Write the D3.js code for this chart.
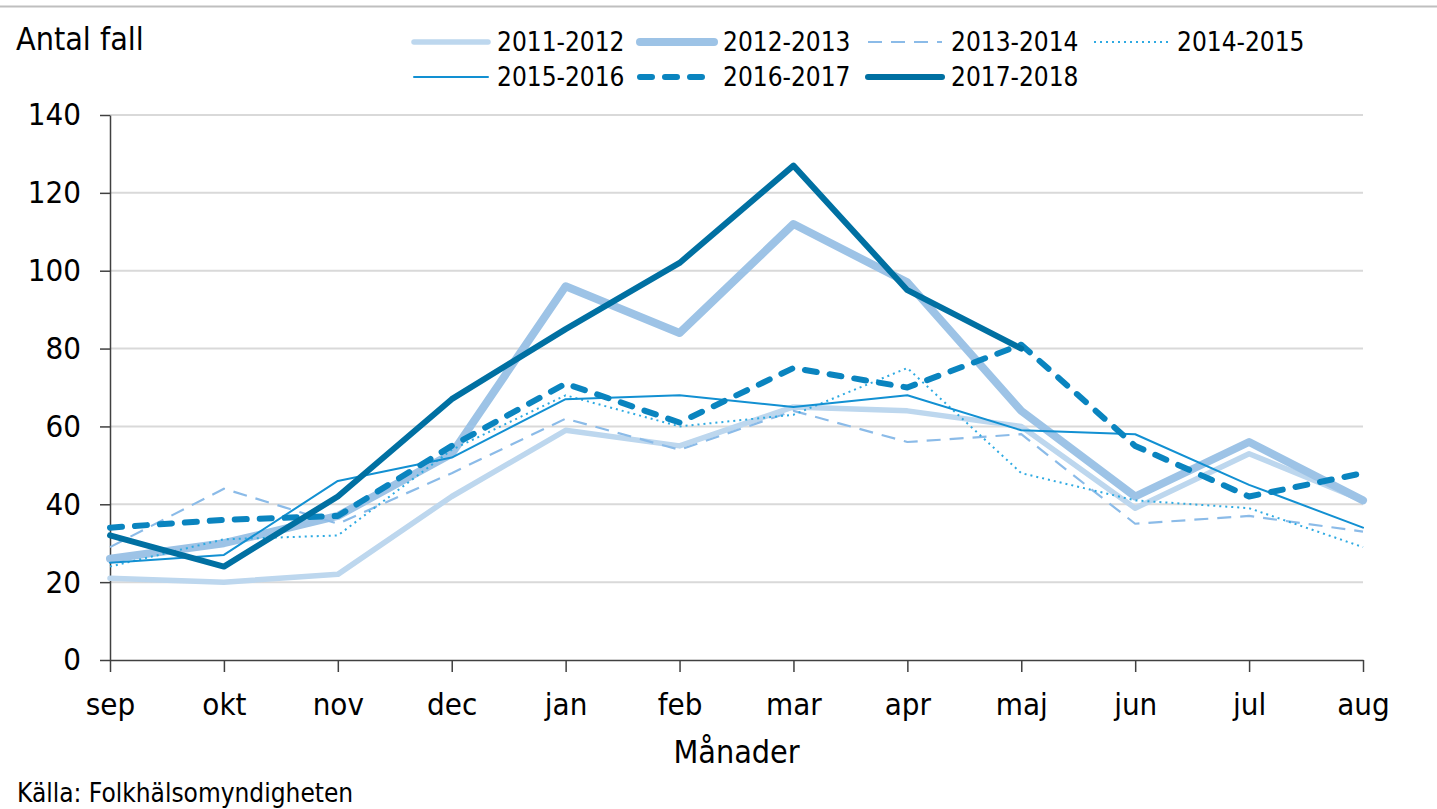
<!doctype html>
<html lang="sv">
<head>
  <meta charset="utf-8">
  <script src="https://cdn.jsdelivr.net/npm/d3@7/dist/d3.min.js"></script>
</head>

<style>
    body {
        margin: 0;
        background-color: white;
        font-family: "DejaVu Sans Condensed", "DejaVu Sans", sans-serif;
    }

    svg {
        display: block;
    }

    .tick text {
        font-family: "DejaVu Sans Condensed", "DejaVu Sans", sans-serif;
        fill: #000;
    }
</style>

<body>
</body>

<script>

    let months = ['sep', 'okt', 'nov', 'dec', 'jan', 'feb', 'mar', 'apr', 'maj', 'jun', 'jul', 'aug']
    let yTicks = [0, 20, 40, 60, 80, 100, 120, 140]

    let seasons = ['2011-2012', '2012-2013', '2013-2014', '2014-2015', '2015-2016', '2016-2017', '2017-2018']

    let s2011 = [21, 20, 22, 42, 59, 55, 65, 64, 60, 39, 53, 41]
    let s2012 = [26, 30, 37, 53, 96, 84, 112, 97, 64, 42, 56, 41]
    let s2013 = [29, 44, 35, 48, 62, 54, 64, 56, 58, 35, 37, 33]
    let s2014 = [24, 31, 32, 54, 68, 60, 63, 75, 48, 41, 39, 29]
    let s2015 = [25, 27, 46, 52, 67, 68, 65, 68, 59, 58, 45, 34]
    let s2016 = [34, 36, 37, 55, 71, 61, 75, 70, 81, 55, 42, 48]
    let s2017 = [32, 24, 42, 67, 85, 102, 127, 95, 80]

    let seriesValues = [s2011, s2012, s2013, s2014, s2015, s2016, s2017]

    // line styles, same order as seasons
    let styles = [
        {color: '#bdd7ee', width: 5.5, dash: null, cap: 'round'},
        {color: '#9dc3e6', width: 8, dash: null, cap: 'round'},
        {color: '#8bbbe8', width: 2.2, dash: '14,9', cap: 'butt'},
        {color: '#2eaae2', width: 2, dash: '2,4', cap: 'butt'},
        {color: '#1290d2', width: 2, dash: null, cap: 'round'},
        {color: '#0a84bf', width: 6, dash: '12,13', cap: 'round'},
        {color: '#0070a2', width: 6, dash: null, cap: 'round'}
    ]

    let width = 1437, height = 809
    let margin = {left: 110, right: 74, top: 115, bottom: 149}

    let svg = d3.select('body')
        .append('svg')
        .attr('width', width)
        .attr('height', height)

    // thin frame line at the top
    svg.append('line')
        .attr('x1', 0).attr('x2', width)
        .attr('y1', 6.5).attr('y2', 6.5)
        .attr('stroke', '#bfbfbf')
        .attr('stroke-width', 2)

    let x = d3.scalePoint()
        .domain(months)
        .range([margin.left, width - margin.right])

    let y = d3.scaleLinear()
        .domain([0, 140])
        .range([height - margin.bottom, margin.top])

    // grid
    svg.append('g')
        .selectAll('line')
        .data(yTicks.filter(t => t > 0))
        .join('line')
        .attr('x1', margin.left)
        .attr('x2', width - margin.right)
        .attr('y1', d => y(d))
        .attr('y2', d => y(d))
        .attr('stroke', '#d9d9d9')
        .attr('stroke-width', 2)

    // axes
    let yAxis = svg.append('g')
        .attr('transform', 'translate(' + margin.left + ',0)')
        .call(d3.axisLeft(y).tickValues(yTicks).tickSize(10).tickPadding(19).tickSizeOuter(0))

    yAxis.selectAll('text').style('font-size', '31px')
    yAxis.selectAll('line, path').attr('stroke', '#404040').attr('stroke-width', 1.5)

    let xAxis = svg.append('g')
        .attr('transform', 'translate(0,' + y(0) + ')')
        .call(d3.axisBottom(x).tickSize(12).tickPadding(21).tickSizeOuter(0))

    xAxis.selectAll('text').style('font-size', '31px')
    xAxis.selectAll('line, path').attr('stroke', '#404040').attr('stroke-width', 1.5)

    // lines
    let line = d3.line()
        .x((d, i) => x(months[i]))
        .y(d => y(d))

    seriesValues.forEach((vals, i) => {
        let st = styles[i]
        svg.append('path')
            .datum(vals)
            .attr('d', line)
            .attr('fill', 'none')
            .attr('stroke', st.color)
            .attr('stroke-width', st.width)
            .attr('stroke-dasharray', st.dash)
            .attr('stroke-linecap', st.cap)
            .attr('stroke-linejoin', 'round')
    })

    // legend
    let legendPos = [
        [410, 42], [636, 42], [864, 42], [1090, 42],
        [410, 77], [636, 77], [864, 77]
    ]

    seasons.forEach((s, i) => {
        let st = styles[i]
        let [lx, ly] = legendPos[i]
        svg.append('line')
            .attr('x1', lx + 4).attr('x2', lx + 78)
            .attr('y1', ly).attr('y2', ly)
            .attr('stroke', st.color)
            .attr('stroke-width', st.width)
            .attr('stroke-dasharray', st.dash)
            .attr('stroke-linecap', st.cap)
        svg.append('text')
            .attr('x', lx + 87)
            .attr('y', ly + 9)
            .style('font-size', '26px')
            .text(s)
    })

    // titles
    svg.append('text')
        .attr('x', 16).attr('y', 50)
        .style('font-size', '32px')
        .text('Antal fall')

    svg.append('text')
        .attr('x', (margin.left + width - margin.right) / 2)
        .attr('y', 763)
        .attr('text-anchor', 'middle')
        .style('font-size', '32px')
        .text('Månader')

    svg.append('text')
        .attr('x', 17).attr('y', 802)
        .style('font-size', '26px')
        .text('Källa: Folkhälsomyndigheten')

</script>

</html>
